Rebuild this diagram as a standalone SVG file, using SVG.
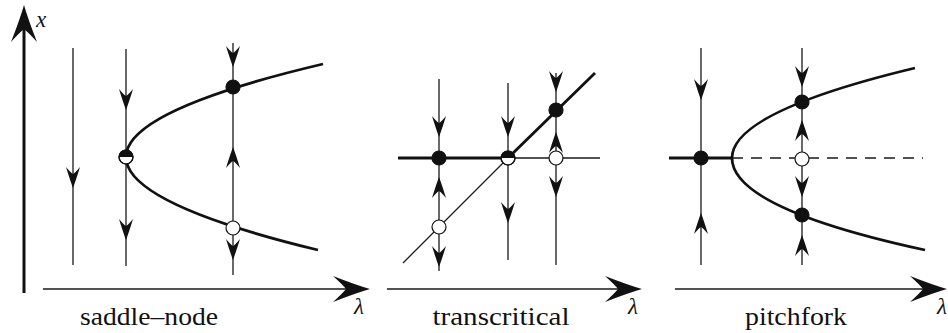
<svg xmlns="http://www.w3.org/2000/svg" xmlns:xlink="http://www.w3.org/1999/xlink" width="948" height="333" viewBox="0 0 948 333">
<style>
.thin{stroke:#1a1a1a;stroke-width:1.3;fill:none}
.thick{stroke:#111;stroke-width:2.8;fill:none}
.dash{stroke:#1a1a1a;stroke-width:1.3;fill:none;stroke-dasharray:11 8}
.stable{fill:#111;stroke:#111;stroke-width:1.2}
.unstable{fill:#fff;stroke:#111;stroke-width:1.2}
.txt{font-family:"Liberation Serif","Times New Roman",Times,Tinos,"Noto Serif","DejaVu Serif","FreeSerif",serif;fill:#111}
</style>
<defs>
<path id="big" d="M0,0 Q-14,-4 -37,-13 Q-27,-4 -24,0 Q-27,4 -37,13 Q-14,4 0,0 Z" fill="#111"/>
<path id="sm" d="M0,0 Q-8,-3 -21,-7 Q-15,-2 -14,0 Q-15,2 -21,7 Q-8,3 0,0 Z" fill="#111"/>
<path id="half" d="M-7,0 A7,7 0 0 1 7,0 Z" fill="#111"/>
</defs>

<g id="connectors">
  <line class="thick" x1="24" y1="293" x2="24" y2="12" style="stroke-width:3"/>
  <use href="#big" transform="translate(24,5) rotate(-90)"/>
  <line class="thin" x1="43" y1="289" x2="365" y2="289"/>
  <use href="#big" transform="translate(370,289)"/>
  <line class="thin" x1="387" y1="289" x2="637" y2="289"/>
  <use href="#big" transform="translate(642,289)"/>
  <line class="thin" x1="675" y1="289" x2="942" y2="289"/>
  <use href="#big" transform="translate(947,289)"/>

  <line class="thin" x1="73" y1="48" x2="73" y2="265"/>
  <use href="#sm" transform="translate(73,188) rotate(90)"/>
  <line class="thin" x1="126" y1="49" x2="126" y2="266"/>
  <use href="#sm" transform="translate(126,110) rotate(90)"/>
  <use href="#sm" transform="translate(126,240) rotate(90)"/>
  <line class="thin" x1="233" y1="43" x2="233" y2="275"/>
  <use href="#sm" transform="translate(233,67) rotate(90)"/>
  <use href="#sm" transform="translate(233,147) rotate(-90)"/>
  <use href="#sm" transform="translate(233,260) rotate(90)"/>
  <path class="thick" d="M126,157 Q126,110.5 323,64"/>
  <path class="thick" d="M126,157 Q126,203.5 318,250"/>

  <line class="thick" x1="398" y1="158" x2="508" y2="158"/>
  <line class="thin" x1="508" y1="158" x2="600" y2="158"/>
  <line class="thin" x1="403" y1="263" x2="508" y2="158"/>
  <line class="thick" x1="508" y1="158" x2="595" y2="73"/>
  <line class="thin" x1="439" y1="79" x2="439" y2="271"/>
  <use href="#sm" transform="translate(439,137) rotate(90)"/>
  <use href="#sm" transform="translate(439,177) rotate(-90)"/>
  <use href="#sm" transform="translate(439,267) rotate(90)"/>
  <line class="thin" x1="508" y1="83" x2="508" y2="260"/>
  <use href="#sm" transform="translate(508,137) rotate(90)"/>
  <use href="#sm" transform="translate(508,223) rotate(90)"/>
  <line class="thin" x1="556" y1="73" x2="556" y2="265"/>
  <use href="#sm" transform="translate(556,92) rotate(90)"/>
  <use href="#sm" transform="translate(556,132) rotate(-90)"/>
  <use href="#sm" transform="translate(556,197) rotate(90)"/>

  <line class="thick" x1="669" y1="158" x2="732" y2="158"/>
  <line class="dash" x1="732" y1="158" x2="923" y2="158"/>
  <path class="thick" d="M732,158 Q732,112 915,68"/>
  <path class="thick" d="M732,158 Q732,208 925,250"/>
  <line class="thin" x1="701" y1="48" x2="701" y2="265"/>
  <use href="#sm" transform="translate(701,100) rotate(90)"/>
  <use href="#sm" transform="translate(701,213) rotate(-90)"/>
  <line class="thin" x1="802" y1="48" x2="802" y2="265"/>
  <use href="#sm" transform="translate(802,87) rotate(90)"/>
  <use href="#sm" transform="translate(802,120) rotate(-90)"/>
  <use href="#sm" transform="translate(802,197) rotate(90)"/>
  <use href="#sm" transform="translate(802,235) rotate(-90)"/>
</g>

<g id="sn-half"><circle class="unstable" cx="126" cy="157" r="7"/><use href="#half" x="126" y="157"/><circle cx="126" cy="157" r="7" fill="none" stroke="#111" stroke-width="1.2"/></g>
<g id="sn-stable"><circle class="stable" cx="233" cy="87" r="7"/></g>
<g id="sn-unstable"><circle class="unstable" cx="233" cy="228" r="7"/></g>

<g id="tc-stable1"><circle class="stable" cx="439" cy="158" r="7"/></g>
<g id="tc-unstable1"><circle class="unstable" cx="439" cy="227" r="7"/></g>
<g id="tc-half"><circle class="unstable" cx="508" cy="158" r="7"/><use href="#half" x="508" y="158"/><circle cx="508" cy="158" r="7" fill="none" stroke="#111" stroke-width="1.2"/></g>
<g id="tc-stable2"><circle class="stable" cx="556" cy="110" r="7"/></g>
<g id="tc-unstable2"><circle class="unstable" cx="556" cy="158" r="7"/></g>

<g id="pf-stable0"><circle class="stable" cx="701" cy="158" r="7"/></g>
<g id="pf-stable1"><circle class="stable" cx="802" cy="102" r="7"/></g>
<g id="pf-unstable"><circle class="unstable" cx="802" cy="159" r="7"/></g>
<g id="pf-stable2"><circle class="stable" cx="802" cy="215" r="7"/></g>

<g id="labels">
  <text class="txt" x="36" y="27" font-style="italic" font-size="23">x</text>
  <text class="txt" x="354" y="314" font-style="italic" font-size="23">λ</text>
  <text class="txt" x="628" y="314" font-style="italic" font-size="23">λ</text>
  <text class="txt" x="937" y="314" font-style="italic" font-size="23">λ</text>
  <text class="txt" x="149" y="325" font-size="25" text-anchor="middle" textLength="138" lengthAdjust="spacingAndGlyphs">saddle–node</text>
  <text class="txt" x="501" y="325" font-size="25" text-anchor="middle" textLength="137" lengthAdjust="spacingAndGlyphs">transcritical</text>
  <text class="txt" x="796" y="325" font-size="25" text-anchor="middle" textLength="102" lengthAdjust="spacingAndGlyphs">pitchfork</text>
</g>
</svg>
